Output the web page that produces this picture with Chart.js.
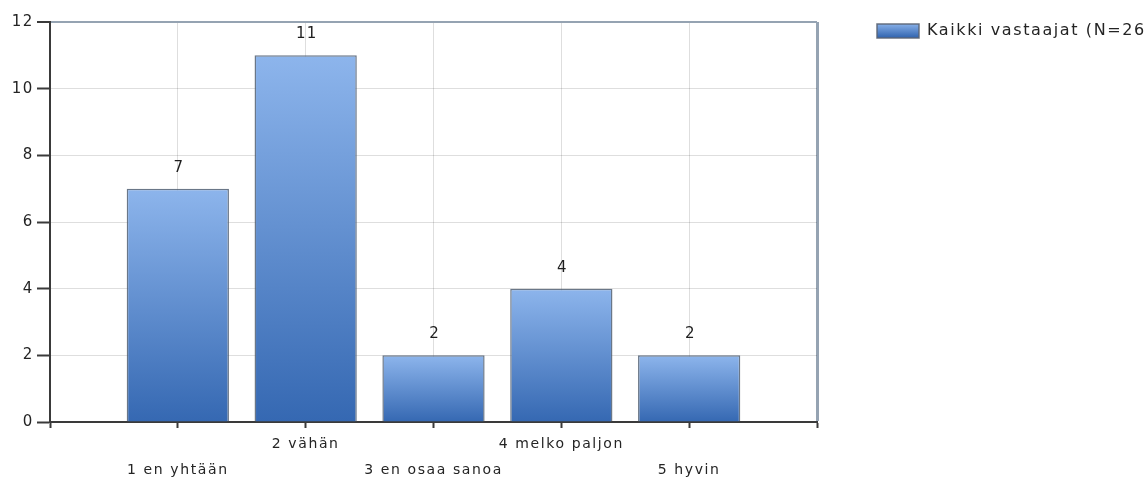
<!DOCTYPE html>
<html lang="fi">
<head>
<meta charset="utf-8">
<title>Kaikki vastaajat</title>
<script src="https://cdn.jsdelivr.net/npm/chart.js@4/dist/chart.umd.min.js"></script>
<style>
  html, body { margin: 0; padding: 0; background: #ffffff; overflow: hidden; }
  #wrap { position: relative; width: 1147px; height: 479px; }
</style>
</head>
<body>
<div id="wrap"><canvas id="chart"></canvas></div>
<script>
// Answer options (x axis) and number of respondents per option
const categories = ['1 en yhtään', '2 vähän', '3 en osaa sanoa', '4 melko paljon', '5 hyvin'];
const counts = [7, 11, 2, 4, 2];
const seriesLabel = 'Kaikki vastaajat (N=26)';
const yTicks = { min: 0, max: 12, step: 2 };

const FONT = 'DejaVu Sans';
const TEXT = '#242424';
const AXIS = '#3a3a3a';
const FRAME = '#95a3b2';
const GRID = 'rgba(0,0,0,0.13)';
const TOP_PAD = 22;
const LEGEND_BOX_H = 14;

// Slightly widened letter spacing for canvas text
function setSpacing(chart, px) { chart.ctx.letterSpacing = px + 'px'; }
const spacingPlugin = {
  id: 'spacing',
  beforeLayout(chart) { setSpacing(chart, 1.6); },
  beforeDraw(chart) { setSpacing(chart, 1.6); }
};

// Value written above each bar
const valueLabels = {
  id: 'valueLabels',
  afterDraw(chart) {
    const ctx = chart.ctx;
    const meta = chart.getDatasetMeta(0);
    ctx.save();
    ctx.letterSpacing = '1px';
    ctx.font = '15px "' + FONT + '"';
    ctx.fillStyle = '#1e1e1e';
    ctx.textAlign = 'center';
    ctx.textBaseline = 'middle';
    meta.data.forEach((bar, i) => {
      const v = chart.data.datasets[0].data[i].y;
      ctx.fillText(String(v), bar.x + 1, bar.y - 21);
    });
    ctx.restore();
  }
};

function blueGradient(ctx, top, bottom) {
  const g = ctx.createLinearGradient(0, top, 0, bottom);
  g.addColorStop(0, '#8db5ec');
  g.addColorStop(1, '#3568b2');
  return g;
}

function barFill(c) {
  const chart = c.chart;
  if (c.type !== 'data' || !chart.chartArea) return '#5c8cd3';
  const ys = chart.scales.y;
  return blueGradient(chart.ctx, ys.getPixelForValue(c.parsed.y), ys.getPixelForValue(0));
}

const points = categories.map((name, i) => ({ x: i + 1, y: counts[i] }));

new Chart(document.getElementById('chart'), {
  type: 'bar',
  data: {
    datasets: [{
      label: seriesLabel,
      data: points,
      backgroundColor: barFill,
      borderColor: 'rgba(80,95,115,0.85)',
      borderWidth: 1.5,
      barPercentage: 1,
      categoryPercentage: 0.8
    }]
  },
  plugins: [spacingPlugin, valueLabels],
  options: {
    responsive: true,
    maintainAspectRatio: false,
    animation: false,
    layout: { padding: { top: TOP_PAD, left: 0, right: 0, bottom: 0 } },
    plugins: {
      tooltip: { enabled: false },
      legend: {
        position: 'right',
        align: 'start',
        maxWidth: 271,
        labels: {
          boxWidth: 42,
          boxHeight: LEGEND_BOX_H,
          padding: 1,
          color: TEXT,
          font: { family: FONT, size: 16 },
          generateLabels(chart) {
            const items = Chart.defaults.plugins.legend.labels.generateLabels(chart);
            items.forEach(it => {
              it.fillStyle = blueGradient(chart.ctx, TOP_PAD + 1, TOP_PAD + 1 + LEGEND_BOX_H);
              it.strokeStyle = 'rgba(90,100,115,0.9)';
              it.lineWidth = 1.5;
            });
            return items;
          }
        }
      }
    },
    scales: {
      x: {
        type: 'linear',
        offset: false,
        min: 0,
        max: categories.length + 1,
        z: 1,
        afterFit(s) { s.height = 57; },
        ticks: {
          stepSize: 1,
          padding: 3,
          color: TEXT,
          maxRotation: 0,
          autoSkip: false,
          font: { family: FONT, size: 14, lineHeight: 1.86 },
          callback(value) {
            const i = value - 1;
            if (i < 0 || i >= categories.length) return '';
            return i % 2 === 0 ? ['', categories[i]] : [categories[i]];
          }
        },
        grid: {
          offset: false,
          tickLength: 6,
          tickWidth: 2,
          tickColor: AXIS,
          color(c) {
            const v = c.tick ? c.tick.value : null;
            if (v === 0) return 'rgba(0,0,0,0)';
            if (v === categories.length + 1) return FRAME;
            return GRID;
          },
          lineWidth(c) {
            const v = c.tick ? c.tick.value : null;
            return v === categories.length + 1 ? 3 : 1;
          }
        },
        border: { color: AXIS, width: 2 }
      },
      y: {
        min: yTicks.min,
        max: yTicks.max,
        z: 1,
        afterFit(s) { s.width = 50; },
        ticks: {
          stepSize: yTicks.step,
          padding: 3,
          color: TEXT,
          font: { family: FONT, size: 15 }
        },
        grid: {
          tickLength: 13,
          tickWidth: 2,
          tickColor: AXIS,
          color(c) {
            const v = c.tick ? c.tick.value : null;
            if (v === yTicks.min) return 'rgba(0,0,0,0)';
            if (v === yTicks.max) return FRAME;
            return GRID;
          },
          lineWidth(c) {
            const v = c.tick ? c.tick.value : null;
            return v === yTicks.max ? 2 : 1;
          }
        },
        border: { color: AXIS, width: 2 }
      },
      gap: {
        type: 'linear',
        position: 'right',
        display: true,
        afterFit(s) { s.width = 59; },
        ticks: { display: false },
        grid: { display: false, drawTicks: false },
        border: { display: false }
      }
    }
  }
});
</script>
</body>
</html>
